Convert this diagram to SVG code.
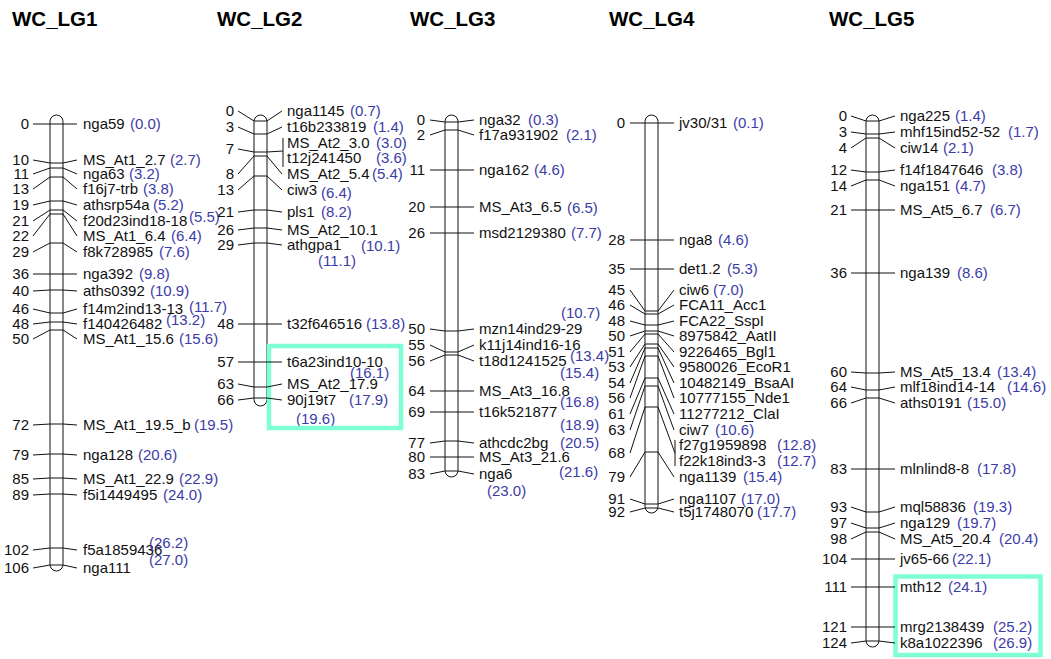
<svg xmlns="http://www.w3.org/2000/svg" width="1051" height="659" viewBox="0 0 1051 659">
<style>
text{font-family:"Liberation Sans",Arial,Helvetica,sans-serif;font-size:15px;fill:#111}
.ttl{font-size:20.5px;font-weight:bold;fill:#000}
.num{text-anchor:end}
.bl{fill:#3c3ca8}
.chr{fill:#fff;stroke:#111;stroke-width:1}
.cn polyline,.cn line{fill:none;stroke:#111;stroke-width:1}
.hl{fill:none;stroke:#7FFFD4;stroke-width:4.5}
</style>
<rect width="1051" height="659" fill="#fff"/>

<g id="LG1">
<text class="ttl" x="12" y="26">WC_LG1</text>
<rect class="chr" x="50" y="115" width="13" height="456" rx="6.5" ry="6.5"/>
<g class="num">
<text class="num" x="29" y="129">0</text>
<text class="num" x="29" y="165">10</text>
<text class="num" x="29" y="179">11</text>
<text class="num" x="29" y="194">13</text>
<text class="num" x="29" y="210">19</text>
<text class="num" x="29" y="226">21</text>
<text class="num" x="29" y="241">22</text>
<text class="num" x="29" y="257">29</text>
<text class="num" x="29" y="279">36</text>
<text class="num" x="29" y="296">40</text>
<text class="num" x="29" y="314">46</text>
<text class="num" x="29" y="329">48</text>
<text class="num" x="29" y="344">50</text>
<text class="num" x="29" y="430">72</text>
<text class="num" x="29" y="460">79</text>
<text class="num" x="29" y="484">85</text>
<text class="num" x="29" y="500">89</text>
<text class="num" x="29" y="555">102</text>
<text class="num" x="29" y="573">106</text>
</g>
<text x="83" y="129">nga59</text><text class="bl" x="130" y="129">(0.0)</text>
<text x="83" y="165">MS_At1_2.7</text><text class="bl" x="170" y="165">(2.7)</text>
<text x="83" y="179">nga63</text><text class="bl" x="129" y="179">(3.2)</text>
<text x="83" y="194">f16j7-trb</text><text class="bl" x="143" y="194">(3.8)</text>
<text x="83" y="210">athsrp54a</text><text class="bl" x="153" y="210">(5.2)</text>
<text x="83" y="226">f20d23ind18-18</text><text class="bl" x="189" y="222">(5.5)</text>
<text x="83" y="241">MS_At1_6.4</text><text class="bl" x="171" y="241">(6.4)</text>
<text x="83" y="257">f8k728985</text><text class="bl" x="159" y="257">(7.6)</text>
<text x="83" y="279">nga392</text><text class="bl" x="139" y="279">(9.8)</text>
<text x="83" y="296">aths0392</text><text class="bl" x="150" y="296">(10.9)</text>
<text x="83" y="314">f14m2ind13-13</text><text class="bl" x="189" y="312">(11.7)</text>
<text x="83" y="329">f140426482</text><text class="bl" x="166" y="325">(13.2)</text>
<text x="83" y="344">MS_At1_15.6</text><text class="bl" x="179" y="344">(15.6)</text>
<text x="83" y="430">MS_At1_19.5_b</text><text class="bl" x="194" y="430">(19.5)</text>
<text x="83" y="460">nga128</text><text class="bl" x="138" y="460">(20.6)</text>
<text x="83" y="484">MS_At1_22.9</text><text class="bl" x="179" y="484">(22.9)</text>
<text x="83" y="500">f5i1449495</text><text class="bl" x="163" y="500">(24.0)</text>
<text x="83" y="555">f5a1859436</text><text class="bl" x="149" y="548">(26.2)</text>
<text x="83" y="573">nga111</text><text class="bl" x="149" y="565">(27.0)</text>
</g>

<g id="LG2">
<text class="ttl" x="217" y="26">WC_LG2</text>
<rect class="chr" x="254" y="115" width="13" height="291" rx="6.5" ry="6.5"/>
<text class="num" x="234" y="116">0</text>
<text class="num" x="234" y="132">3</text>
<text class="num" x="234" y="154">7</text>
<text class="num" x="234" y="179">8</text>
<text class="num" x="234" y="195">13</text>
<text class="num" x="234" y="217">21</text>
<text class="num" x="234" y="235">26</text>
<text class="num" x="234" y="250">29</text>
<text class="num" x="234" y="329">48</text>
<text class="num" x="234" y="367">57</text>
<text class="num" x="234" y="389">63</text>
<text class="num" x="234" y="405">66</text>
<text x="287" y="116">nga1145</text><text class="bl" x="350" y="116">(0.7)</text>
<text x="287" y="132">t16b233819</text><text class="bl" x="373" y="132">(1.4)</text>
<text x="287" y="148">MS_At2_3.0</text><text class="bl" x="376" y="148">(3.0)</text>
<text x="287" y="163">t12j241450</text><text class="bl" x="376" y="163">(3.6)</text>
<text x="287" y="179">MS_At2_5.4</text><text class="bl" x="372" y="179">(5.4)</text>
<text x="287" y="195">ciw3</text><text class="bl" x="321" y="198">(6.4)</text>
<text x="287" y="217">pls1</text><text class="bl" x="321" y="217">(8.2)</text>
<text x="287" y="235">MS_At2_10.1</text><text class="bl" x="361" y="251">(10.1)</text>
<text x="287" y="250">athgpa1</text><text class="bl" x="318" y="266">(11.1)</text>
<text x="287" y="329">t32f646516</text><text class="bl" x="366" y="329">(13.8)</text>
<text x="287" y="367">t6a23ind10-10</text><text class="bl" x="350" y="378">(16.1)</text>
<text x="287" y="389">MS_At2_17.9</text><text class="bl" x="349" y="405">(17.9)</text>
<text x="287" y="405">90j19t7</text><text class="bl" x="296" y="424">(19.6)</text>
<rect id="LG2-highlight" class="hl" x="269" y="346" width="132" height="82"/>
</g>

<g id="LG3">
<text class="ttl" x="410" y="26">WC_LG3</text>
<rect class="chr" x="445" y="115" width="13" height="362" rx="6.5" ry="6.5"/>
<text class="num" x="425" y="125">0</text>
<text class="num" x="425" y="140">2</text>
<text class="num" x="425" y="175">11</text>
<text class="num" x="425" y="212">20</text>
<text class="num" x="425" y="238">26</text>
<text class="num" x="425" y="334">50</text>
<text class="num" x="425" y="350">55</text>
<text class="num" x="425" y="366">56</text>
<text class="num" x="425" y="396">64</text>
<text class="num" x="425" y="417">69</text>
<text class="num" x="425" y="448">77</text>
<text class="num" x="425" y="462">80</text>
<text class="num" x="425" y="479">83</text>
<text x="479" y="125">nga32</text><text class="bl" x="528" y="125">(0.3)</text>
<text x="479" y="140">f17a931902</text><text class="bl" x="566" y="140">(2.1)</text>
<text x="479" y="175">nga162</text><text class="bl" x="534" y="175">(4.6)</text>
<text x="479" y="212">MS_At3_6.5</text><text class="bl" x="567" y="213">(6.5)</text>
<text x="479" y="238">msd2129380</text><text class="bl" x="571" y="238">(7.7)</text>
<text x="479" y="334">mzn14ind29-29</text><text class="bl" x="561" y="318">(10.7)</text>
<text x="479" y="350">k11j14ind16-16</text><text class="bl" x="570" y="361">(13.4)</text>
<text x="479" y="366">t18d1241525</text><text class="bl" x="560" y="378">(15.4)</text>
<text x="479" y="396">MS_At3_16.8</text><text class="bl" x="560" y="407">(16.8)</text>
<text x="479" y="417">t16k521877</text><text class="bl" x="560" y="430">(18.9)</text>
<text x="479" y="448">athcdc2bg</text><text class="bl" x="560" y="448">(20.5)</text>
<text x="479" y="462">MS_At3_21.6</text><text class="bl" x="559" y="477">(21.6)</text>
<text x="479" y="479">nga6</text><text class="bl" x="487" y="496">(23.0)</text>
</g>

<g id="LG4">
<text class="ttl" x="609" y="26">WC_LG4</text>
<rect class="chr" x="645" y="115" width="13" height="398" rx="6.5" ry="6.5"/>
<text class="num" x="625" y="128">0</text>
<text class="num" x="625" y="245">28</text>
<text class="num" x="625" y="274">35</text>
<text class="num" x="625" y="295">45</text>
<text class="num" x="625" y="310">46</text>
<text class="num" x="625" y="326">48</text>
<text class="num" x="625" y="341">50</text>
<text class="num" x="625" y="357">51</text>
<text class="num" x="625" y="372">53</text>
<text class="num" x="625" y="388">54</text>
<text class="num" x="625" y="403">56</text>
<text class="num" x="625" y="419">61</text>
<text class="num" x="625" y="435">63</text>
<text class="num" x="625" y="458">68</text>
<text class="num" x="625" y="482">79</text>
<text class="num" x="625" y="504">91</text>
<text class="num" x="625" y="517">92</text>
<text x="679" y="128">jv30/31</text><text class="bl" x="733" y="128">(0.1)</text>
<text x="679" y="245">nga8</text><text class="bl" x="718" y="245">(4.6)</text>
<text x="679" y="274">det1.2</text><text class="bl" x="727" y="274">(5.3)</text>
<text x="679" y="295">ciw6</text><text class="bl" x="713" y="295">(7.0)</text>
<text x="679" y="310">FCA11_Acc1</text>
<text x="679" y="326">FCA22_SspI</text>
<text x="679" y="341">8975842_AatII</text>
<text x="679" y="357">9226465_Bgl1</text>
<text x="679" y="372">9580026_EcoR1</text>
<text x="679" y="388">10482149_BsaAI</text>
<text x="679" y="403">10777155_Nde1</text>
<text x="679" y="419">11277212_ClaI</text>
<text x="679" y="435">ciw7</text><text class="bl" x="715" y="435">(10.6)</text>
<text x="679" y="450">f27g1959898</text><text class="bl" x="777" y="450">(12.8)</text>
<text x="679" y="466">f22k18ind3-3</text><text class="bl" x="777" y="466">(12.7)</text>
<text x="679" y="482">nga1139</text><text class="bl" x="743" y="482">(15.4)</text>
<text x="679" y="504">nga1107</text><text class="bl" x="741" y="504">(17.0)</text>
<text x="679" y="517">t5j1748070</text><text class="bl" x="757" y="517">(17.7)</text>
</g>

<g id="LG5">
<text class="ttl" x="829" y="26">WC_LG5</text>
<rect class="chr" x="866" y="115" width="13" height="532" rx="6.5" ry="6.5"/>
<text class="num" x="847" y="121">0</text>
<text class="num" x="847" y="137">3</text>
<text class="num" x="847" y="153">4</text>
<text class="num" x="847" y="175">12</text>
<text class="num" x="847" y="191">14</text>
<text class="num" x="847" y="215">21</text>
<text class="num" x="847" y="278">36</text>
<text class="num" x="847" y="377">60</text>
<text class="num" x="847" y="392">64</text>
<text class="num" x="847" y="408">66</text>
<text class="num" x="847" y="474">83</text>
<text class="num" x="847" y="512">93</text>
<text class="num" x="847" y="528">97</text>
<text class="num" x="847" y="544">98</text>
<text class="num" x="847" y="564">104</text>
<text class="num" x="847" y="592">111</text>
<text class="num" x="847" y="632">121</text>
<text class="num" x="847" y="648">124</text>
<text x="900" y="121">nga225</text><text class="bl" x="955" y="121">(1.4)</text>
<text x="900" y="137">mhf15ind52-52</text><text class="bl" x="1008" y="137">(1.7)</text>
<text x="900" y="153">ciw14</text><text class="bl" x="943" y="153">(2.1)</text>
<text x="900" y="175">f14f1847646</text><text class="bl" x="992" y="175">(3.8)</text>
<text x="900" y="191">nga151</text><text class="bl" x="955" y="191">(4.7)</text>
<text x="900" y="215">MS_At5_6.7</text><text class="bl" x="990" y="215">(6.7)</text>
<text x="900" y="278">nga139</text><text class="bl" x="957" y="278">(8.6)</text>
<text x="900" y="377">MS_At5_13.4</text><text class="bl" x="997" y="377">(13.4)</text>
<text x="900" y="392">mlf18ind14-14</text><text class="bl" x="1007" y="392">(14.6)</text>
<text x="900" y="408">aths0191</text><text class="bl" x="967" y="408">(15.0)</text>
<text x="900" y="474">mlnlind8-8</text><text class="bl" x="977" y="474">(17.8)</text>
<text x="900" y="512">mql58836</text><text class="bl" x="973" y="512">(19.3)</text>
<text x="900" y="528">nga129</text><text class="bl" x="957" y="528">(19.7)</text>
<text x="900" y="544">MS_At5_20.4</text><text class="bl" x="999" y="544">(20.4)</text>
<text x="900" y="564">jv65-66</text><text class="bl" x="952" y="564">(22.1)</text>
<text x="900" y="592">mth12</text><text class="bl" x="948" y="592">(24.1)</text>
<text x="900" y="632">mrg2138439</text><text class="bl" x="993" y="632">(25.2)</text>
<text x="900" y="648">k8a1022396</text><text class="bl" x="993" y="648">(26.9)</text>
<rect id="LG5-highlight" class="hl" x="895.5" y="576.5" width="145" height="78.5"/>
</g>

<g id="connectors" class="cn">
<polyline points="33,124 50,124 63,124 77,124"/>
<polyline points="33,160 50,163 63,163 77,160"/>
<polyline points="33,174 50,168 63,168 77,174"/>
<polyline points="33,189 50,177 63,177 77,189"/>
<polyline points="33,205 50,201 63,201 77,205"/>
<polyline points="33,221 50,210 63,210 77,221"/>
<polyline points="33,236 50,214 63,214 77,236"/>
<polyline points="33,252 50,243 63,243 77,252"/>
<polyline points="33,274 50,274 63,274 77,274"/>
<polyline points="33,291 50,290 63,290 77,291"/>
<polyline points="33,309 50,313 63,313 77,309"/>
<polyline points="33,324 50,322 63,322 77,324"/>
<polyline points="33,339 50,330 63,330 77,339"/>
<polyline points="33,425 50,424 63,424 77,425"/>
<polyline points="33,455 50,454 63,454 77,455"/>
<polyline points="33,479 50,478 63,478 77,479"/>
<polyline points="33,495 50,494 63,494 77,495"/>
<polyline points="33,550 50,548 63,548 77,550"/>
<polyline points="33,568 50,565 63,565 77,568"/>

<polyline points="238,111 254,121 267,121 282,111"/>
<polyline points="238,127 254,134 267,134 282,127"/>
<polyline points="238,149 254,152 267,152 283,151"/>
<line x1="283" y1="138" x2="283" y2="167"/>
<polyline points="238,174 254,156 267,156 282,174"/>
<polyline points="238,190 254,176 267,176 282,190"/>
<polyline points="238,212 254,210 267,210 282,212"/>
<polyline points="238,230 254,228 267,228 282,230"/>
<polyline points="238,245 254,243 267,243 282,245"/>
<polyline points="238,324 254,324 267,324 282,324"/>
<polyline points="238,362 254,362 267,362 282,362"/>
<polyline points="238,384 254,387 267,387 282,384"/>
<polyline points="238,400 254,398 267,398 282,400"/>

<polyline points="430,120 445,122 458,122 474,120"/>
<polyline points="430,135 445,130 458,130 474,135"/>
<polyline points="430,170 445,170 458,170 474,170"/>
<polyline points="430,207 445,207 458,207 474,207"/>
<polyline points="430,233 445,233 458,233 474,233"/>
<polyline points="430,329 445,331 458,331 474,329"/>
<polyline points="430,345 445,352 458,352 474,345"/>
<polyline points="430,361 445,355 458,355 474,361"/>
<polyline points="430,391 445,391 458,391 474,391"/>
<polyline points="430,412 445,412 458,412 474,412"/>
<polyline points="430,443 445,441 458,441 474,443"/>
<polyline points="430,457 445,457 458,457 474,457"/>
<polyline points="430,474 445,471 458,471 474,474"/>

<polyline points="630,123 645,123 658,123 674,123"/>
<polyline points="630,240 645,240 658,240 674,240"/>
<polyline points="630,269 645,269 658,269 674,269"/>
<polyline points="630,290 645,311 658,311 674,290"/>
<polyline points="630,305 645,314 658,314 674,305"/>
<polyline points="630,321 645,325 658,325 674,321"/>
<polyline points="630,336 645,331 658,331 674,336"/>
<polyline points="630,352 645,334 658,334 674,352"/>
<polyline points="630,367 645,344 658,344 674,367"/>
<polyline points="630,383 645,348 658,348 674,383"/>
<polyline points="630,398 645,356 658,356 674,398"/>
<polyline points="630,414 645,378 658,378 674,414"/>
<polyline points="630,430 645,386 658,386 674,430"/>
<polyline points="630,453 645,407 658,407 675,453"/>
<line x1="675" y1="440" x2="675" y2="466"/>
<polyline points="630,477 645,452 658,452 674,477"/>
<polyline points="630,499 645,504 658,504 674,499"/>
<polyline points="630,512 645,508 658,508 674,512"/>

<polyline points="851,116 866,121 879,121 895,116"/>
<polyline points="851,132 866,134 879,134 895,132"/>
<polyline points="851,148 866,138 879,138 895,148"/>
<polyline points="851,170 866,172 879,172 895,170"/>
<polyline points="851,186 866,180 879,180 895,186"/>
<polyline points="851,210 866,210 879,210 895,210"/>
<polyline points="851,273 866,273 879,273 895,273"/>
<polyline points="851,372 866,373 879,373 895,372"/>
<polyline points="851,387 866,390 879,390 895,387"/>
<polyline points="851,403 866,398 879,398 895,403"/>
<polyline points="851,469 866,469 879,469 895,469"/>
<polyline points="851,507 866,512 879,512 895,507"/>
<polyline points="851,523 866,528 879,528 895,523"/>
<polyline points="851,539 866,532 879,532 895,539"/>
<polyline points="851,559 866,559 879,559 895,559"/>
<polyline points="851,587 866,587 879,587 895,587"/>
<polyline points="851,627 866,627 879,627 895,627"/>
<polyline points="851,643 866,641 879,641 895,643"/>
</g>
</svg>
